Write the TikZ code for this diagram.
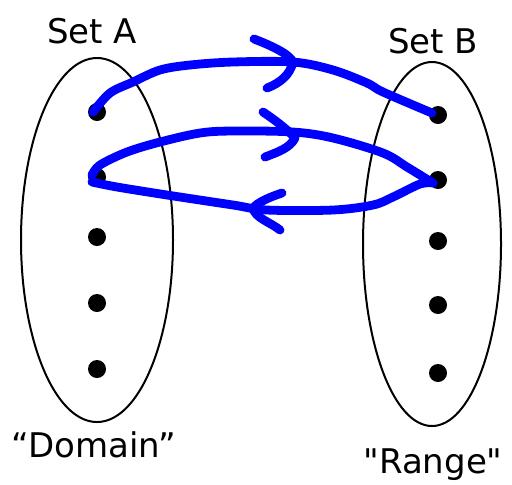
\documentclass[tikz,border=0pt]{standalone}
\usepackage{fontspec}
\setmainfont{DejaVu Sans}[Ligatures=TeXOff]
\begin{document}
\begin{tikzpicture}[x=0.5pt,y=-0.5pt,
  setline/.style={draw=black,line width=1pt},
  dot/.style={circle,fill=black,inner sep=0pt,minimum size=9pt},
  pen/.style={draw={rgb,255:red,0;green,0;blue,255},line width=4.4pt,line cap=round,line join=round},
  lbl/.style={font=\fontsize{17}{20}\selectfont,anchor=base,inner sep=0pt}]
\useasboundingbox (0,0) rectangle (512,484);

% the two sets
\draw[setline] (97,240) ellipse [x radius=38pt,y radius=91pt];
\draw[setline] (432,244) ellipse [x radius=34.5pt,y radius=91pt];

% elements of set A
\node[dot] (a1) at (97,112) {};
\node[dot] (a2) at (97,177) {};
\node[dot] (a3) at (97,237) {};
\node[dot] (a4) at (97,303) {};
\node[dot] (a5) at (97,369) {};
% elements of set B
\node[dot] (b1) at (438,115) {};
\node[dot] (b2) at (438,180) {};
\node[dot] (b3) at (438,241) {};
\node[dot] (b4) at (438,305) {};
\node[dot] (b5) at (438,373) {};

% labels
\node[lbl] (ta) at (92,43) {Set A};
\node[lbl] (tb) at (433,53) {Set B};
\node[lbl] (td) at (94,457) {“Domain”};
\node[lbl] (tr) at (433,473) {"Range"};

% hand-drawn mappings
\draw[pen] plot[smooth,tension=0.55] coordinates {([xshift=-2pt]a1.center) (110,93) (133,82) (160,70) (190,65) (233,62) (293,62) (333,70) (367,83) (383,92) ([xshift=-3pt,yshift=1pt]b1.center)};
\draw[pen] plot[smooth,tension=0.55] coordinates {([xshift=-2.5pt,yshift=1pt]a2.center) (100,165) (127,152) (160,142) (200,133) (233,131) (293,132) (333,138) (383,153) (407,167) ([xshift=-2.5pt,yshift=-1.5pt]b2.center)};
\draw[pen] plot[smooth,tension=0.55] coordinates {([xshift=-2.5pt,yshift=-1.5pt]b2.center) (420,184) (393,197) (373,205) (333,210) (267,210) (233,205) (167,195) (117,187) ([xshift=-2.5pt,yshift=-2.5pt]a2.center)};

% arrow heads
\draw[pen] (254,39) .. controls (275,47) and (290,55) .. (293,62) .. controls (290,75) and (280,83) .. (267,88);
\draw[pen] (263,112) .. controls (275,120) and (288,130) .. (295,138) .. controls (290,148) and (278,152) .. (265,157);
\draw[pen] (282,193) .. controls (270,197) and (258,202) .. (253,208) .. controls (255,218) and (270,222) .. (280,230);
\end{tikzpicture}
\end{document}
